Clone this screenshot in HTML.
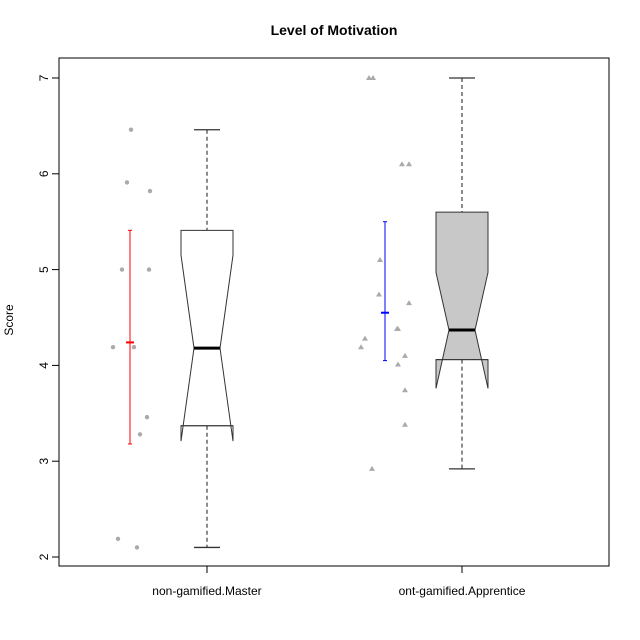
<!DOCTYPE html>
<html><head><meta charset="utf-8"><style>body{margin:0;background:#fff}svg{display:block;font-family:"Liberation Sans",Arial,sans-serif}</style></head>
<body>
<svg id="chart" width="640" height="640">
<text x="334" y="35" text-anchor="middle" font-size="14" font-weight="bold">Level of Motivation</text>
<text transform="translate(13,320) rotate(-90)" text-anchor="middle" font-size="12">Score</text>
<rect x="59" y="58" width="550" height="508" fill="none" stroke="#000"/>
<g id="g"></g>
</svg>
<script>
const categories=["non-gamified.Master","ont-gamified.Apprentice"];
const yTicks=[2,3,4,5,6,7];
const whiskerLow=[2.10,2.92];
const q1=[3.37,4.06];
const medians=[4.18,4.37];
const q3=[5.41,5.60];
const whiskerHigh=[6.46,7.0];
const notchLow=[3.21,3.76];
const notchHigh=[5.15,4.97];
const means=[4.24,4.55];
const errLow=[3.18,4.05];
const errHigh=[5.41,5.50];
const pts1=[6.46,5.91,5.82,5.0,5.0,4.19,4.19,3.46,3.28,2.19,2.10];
const pts2=[7,7,6.10,6.10,5.10,4.74,4.65,4.38,4.38,4.28,4.19,4.10,4.01,3.74,3.38,2.92];
const jit1=[-76,-80,-57,-85,-58,-94,-73,-60,-67,-89,-70];
const jit2=[-93,-89,-60,-53,-82,-83,-53,-65,-64,-97,-101,-57,-64,-57,-57,-90];
const ns="http://www.w3.org/2000/svg",g=document.getElementById('g');
const y=v=>557-(v-2)*95.8;
const cx=[207,462];
function mk(t,a){const e=document.createElementNS(ns,t);for(const k in a)e.setAttribute(k,a[k]);g.appendChild(e);return e;}
yTicks.forEach(v=>{
 const l=mk('line',{x1:52,x2:59,y1:y(v),y2:y(v),stroke:'#000'});
 
 
 const t=mk('text',{transform:`translate(48,${y(v)}) rotate(-90)`,'text-anchor':'middle','font-size':12});
 t.textContent=v;
 
 
});
categories.forEach((c,i)=>{
 const x=cx[i];
 const tk=mk('line',{x1:x,x2:x,y1:566,y2:573,stroke:'#000'});
 
 
 const t=mk('text',{x:x,y:595,'text-anchor':'middle','font-size':12});
 t.textContent=c;
 
 
 const w=26,ni=13;
 const wl=mk('line',{x1:x,x2:x,y1:y(whiskerHigh[i]),y2:y(q3[i]),stroke:'#666','stroke-width':1.5,'stroke-dasharray':'4,3'});
 
 
 const wl2=mk('line',{x1:x,x2:x,y1:y(q1[i]),y2:y(whiskerLow[i]),stroke:'#666','stroke-width':1.5,'stroke-dasharray':'4,3'});
 
 
 [whiskerHigh[i],whiskerLow[i]].forEach(v=>{
  const cap=mk('line',{x1:x-ni,x2:x+ni,y1:y(v),y2:y(v),stroke:'#333','stroke-width':1.3});
  
  
 });
 const p=[[x-w,y(q3[i])],[x+w,y(q3[i])],[x+w,y(notchHigh[i])],[x+ni,y(medians[i])],[x+w,y(notchLow[i])],[x+w,y(q1[i])],[x-w,y(q1[i])],[x-w,y(notchLow[i])],[x-ni,y(medians[i])],[x-w,y(notchHigh[i])]];
 const box=mk('polygon',{points:p.map(a=>a.join(',')).join(' '),fill:i?'#c8c8c8':'#fff',stroke:'#333'});
 
 
 const ql=mk('line',{x1:x-w,x2:x+w,y1:y(q1[i]),y2:y(q1[i]),stroke:'#333'});
 
 
 const md=mk('line',{x1:x-ni,x2:x+ni,y1:y(medians[i]),y2:y(medians[i]),stroke:'#000','stroke-width':3});
 
 
 const col=i?'#0000ff':'#ff0000',ex=i?385:130;
 const eb=mk('line',{x1:ex,x2:ex,y1:y(errHigh[i]),y2:y(errLow[i]),stroke:col});
 
 
 [errHigh[i],errLow[i]].forEach(v=>{
  const c2=mk('line',{x1:ex-2,x2:ex+2,y1:y(v),y2:y(v),stroke:col});
  
  
 });
 const mn=mk('line',{x1:ex-4,x2:ex+4,y1:y(means[i]),y2:y(means[i]),stroke:col,'stroke-width':2});
 
 
});
pts1.forEach((v,j)=>{
 const c=mk('circle',{cx:cx[0]+jit1[j],cy:y(v),r:2.2,fill:'#aaa'});
 
 
});
pts2.forEach((v,j)=>{
 const X=cx[1]+jit2[j],Y=y(v);
 const c=mk('polygon',{points:`${X},${Y-3} ${X-3},${Y+2} ${X+3},${Y+2}`,fill:'#aaa'});
 
 
});
</script>
</body></html>
